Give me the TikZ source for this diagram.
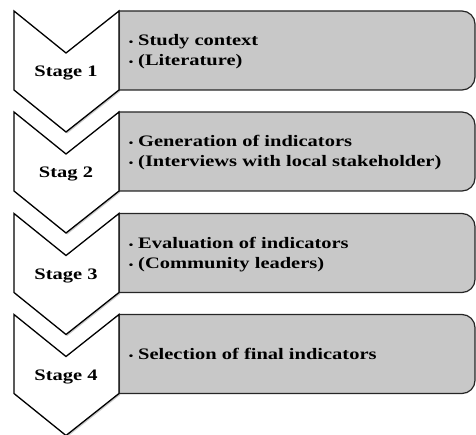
\documentclass[tikz,border=0pt]{standalone}
\usepackage{fontspec}
\setmainfont{Liberation Serif}[FakeStretch=1.28]
\usetikzlibrary{shadows}
\definecolor{boxgray}{RGB}{200,200,200}
\tikzset{
  chev/.style={draw=black, line width=1.3pt, fill=white, line join=miter,
    drop shadow={shadow xshift=1.2pt, shadow yshift=-1.5pt, opacity=0.35, fill=black!60}},
  gbox/.style={draw=black!85, line width=1.2pt, fill=boxgray},
  stagetxt/.style={anchor=base, inner sep=0pt, font=\fontsize{16}{20}\selectfont\bfseries},
  itemtxt/.style={anchor=base west, inner sep=0pt, font=\fontsize{16}{20}\selectfont\bfseries},
  bul/.style={anchor=base, inner sep=0pt, font=\fontsize{10}{20}\selectfont\bfseries}
}
\newcommand{\stagerow}[3]{%
  % #1 top y, #2 stage label, #3 name
  \draw[gbox] (119,#1) -- (462,#1) arc(270:360:13) -- (475,#1+66) arc(0:90:13) -- (119,#1+79) -- cycle;
  \draw[chev] (14,#1) -- (66,#1+42) -- (119,#1) -- (119,#1+79) -- (66,#1+121) -- (14,#1+79) -- cycle;
  \node[stagetxt] (s#3) at (66,#1+66) {#2};
}
\begin{document}
\begin{tikzpicture}[x=1pt,y=-1pt]
\useasboundingbox (0,0) rectangle (476,435);
\stagerow{11}{Stage 1}{1}
\node[bul] (b1a) at (131,46) {•};
\node[itemtxt] (t1a) at (138,46) {Study context};
\node[bul] (b1b) at (131,66) {•};
\node[itemtxt] (t1b) at (138,66) {(Literature)};
\stagerow{112}{Stag 2}{2}
\node[bul] (b2a) at (131,147) {•};
\node[itemtxt] (t2a) at (138,147) {Generation of indicators};
\node[bul] (b2b) at (131,167) {•};
\node[itemtxt] (t2b) at (138,167) {(Interviews with local stakeholder)};
\stagerow{213.5}{Stage 3}{3}
\node[bul] (b3a) at (131,248.5) {•};
\node[itemtxt] (t3a) at (138,248.5) {Evaluation of indicators};
\node[bul] (b3b) at (131,268.5) {•};
\node[itemtxt] (t3b) at (138,268.5) {(Community leaders)};
\stagerow{314.5}{Stage 4}{4}
\node[bul] (b4a) at (131,359) {•};
\node[itemtxt] (t4a) at (138,359) {Selection of final indicators};
\end{tikzpicture}
\end{document}
